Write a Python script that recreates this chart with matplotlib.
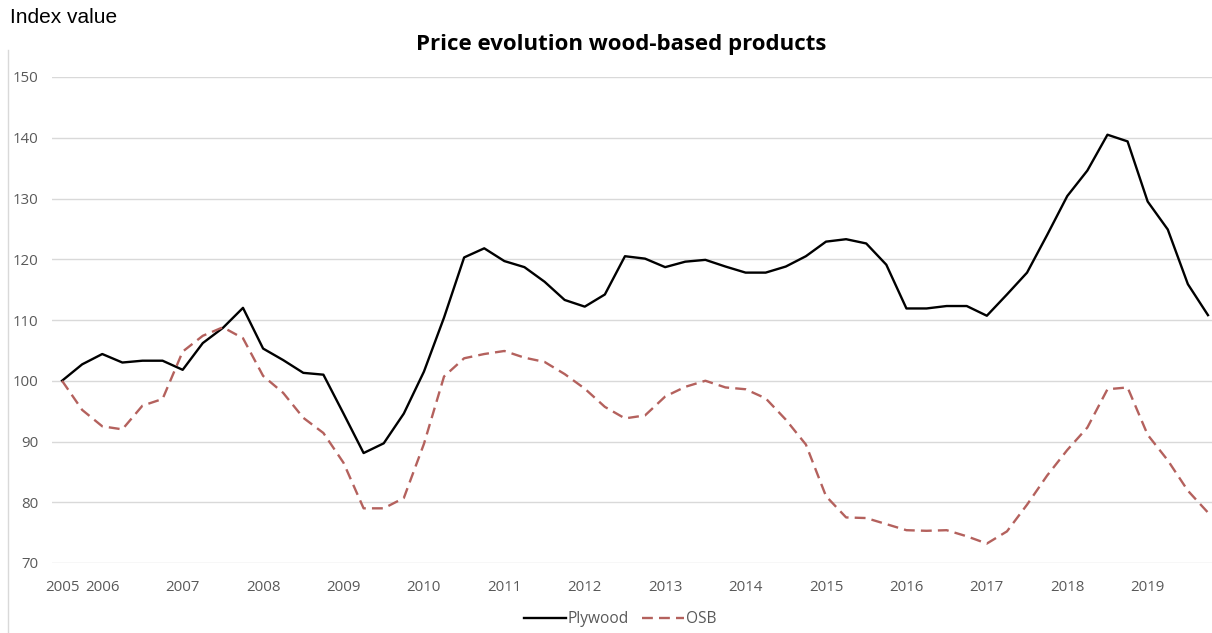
import matplotlib
matplotlib.use("Agg")
import matplotlib.pyplot as plt
from matplotlib.lines import Line2D

# ---- data (quarterly, 2005 Q3 .. 2019 Q4) ----
years = list(range(2005, 2020))
quarters = [f"{y}Q{q}" for y in years for q in range(1, 5)][2:]  # starts 2005Q3

plywood = [100, 102.7, 104.4, 103.0, 103.3, 103.3, 101.8, 106.2, 108.7, 112.0,
           105.3, 103.4, 101.3, 101.0, 94.6, 88.1, 89.7, 94.6, 101.5, 110.4,
           120.3, 121.8, 119.7, 118.7, 116.3, 113.3, 112.2, 114.2, 120.5, 120.1,
           118.7, 119.6, 119.9, 118.8, 117.8, 117.8, 118.8, 120.5, 122.9, 123.3,
           122.6, 119.1, 111.9, 111.9, 112.3, 112.3, 110.7, 114.2, 117.8, 124.0,
           130.4, 134.6, 140.5, 139.4, 129.5, 124.9, 115.9, 110.8]

osb = [100, 95.2, 92.5, 92.0, 95.9, 97.0, 104.8, 107.4, 108.8, 107.0,
       100.8, 98.0, 93.9, 91.4, 86.5, 79.0, 79.0, 80.7, 89.6, 100.7,
       103.7, 104.4, 104.9, 103.8, 103.1, 101.1, 98.7, 95.7, 93.8, 94.3,
       97.4, 99.0, 100.0, 98.9, 98.6, 97.1, 93.6, 89.5, 81.0, 77.5,
       77.4, 76.4, 75.4, 75.3, 75.4, 74.4, 73.2, 75.2, 79.6, 84.4,
       88.6, 92.3, 98.6, 98.9, 91.1, 86.9, 81.9, 78.3]

y_ticks = [70, 80, 90, 100, 110, 120, 130, 140, 150]

title = "Price evolution wood-based products"
y_label = "Index value"
series_names = ["Plywood", "OSB"]

# tick positions: first category, then every Q1
tick_pos = [0] + [i for i, q in enumerate(quarters) if q.endswith("Q1")]
tick_lab = [quarters[i][:4] for i in tick_pos]

# ---- figure ----
W, H = 1212, 633
fig = plt.figure(figsize=(W / 100, H / 100), dpi=100)
fig.patch.set_facecolor("white")

ax = fig.add_axes([52 / W, 1 - 563 / H, 1 - 52 / W, (563 - 77) / H])
x = list(range(len(quarters)))

ax.plot(x, plywood, color="black", lw=1.7, label=series_names[0],
        solid_joinstyle="round")
ax.plot(x, osb, color="#b4615d", lw=1.7, linestyle=(0, (4.6, 2.6)),
        label=series_names[1])

ax.set_xlim(-0.5, 57.2)
ax.set_ylim(70, 150)
ax.set_yticks(y_ticks)
ax.set_xticks(tick_pos)
ax.set_xticklabels(tick_lab)
ax.grid(axis="y", color="#d9d9d9", lw=1)
ax.set_axisbelow(True)
for s in ax.spines.values():
    s.set_visible(False)
ax.tick_params(axis="both", length=0, colors="#595959")
ax.tick_params(axis="x", pad=12)
ax.tick_params(axis="y", pad=10)
for lab in ax.get_xticklabels() + ax.get_yticklabels():
    lab.set_fontfamily("Open Sans")
    lab.set_fontsize(10.8)

# left frame line
fig.add_artist(Line2D([8 / W, 8 / W], [0, 1 - 50 / H], transform=fig.transFigure,
                      color="#d9d9d9", lw=1))

# texts
fig.text(10 / W, 1 - 23 / H, y_label, family="Liberation Sans", fontsize=15,
         color="black", ha="left", va="baseline")
t = fig.text(621 / W, 1 - 50 / H, title, family="Open Sans", fontweight="bold",
             fontsize=16, color="black", ha="center", va="baseline")
fig.canvas.draw()
w = t.get_window_extent().width
t.set_fontsize(16 * 412 / w)

leg = fig.legend(loc="center", bbox_to_anchor=(620 / W, 1 - 619 / H), ncol=2,
                 frameon=False, prop=dict(family="Open Sans", size=11.2),
                 handlelength=2.7, handletextpad=0.1, columnspacing=0.9,
                 borderaxespad=0)
for txt in leg.get_texts():
    txt.set_color("#595959")

fig.savefig("out.png", dpi=100, facecolor="white")
